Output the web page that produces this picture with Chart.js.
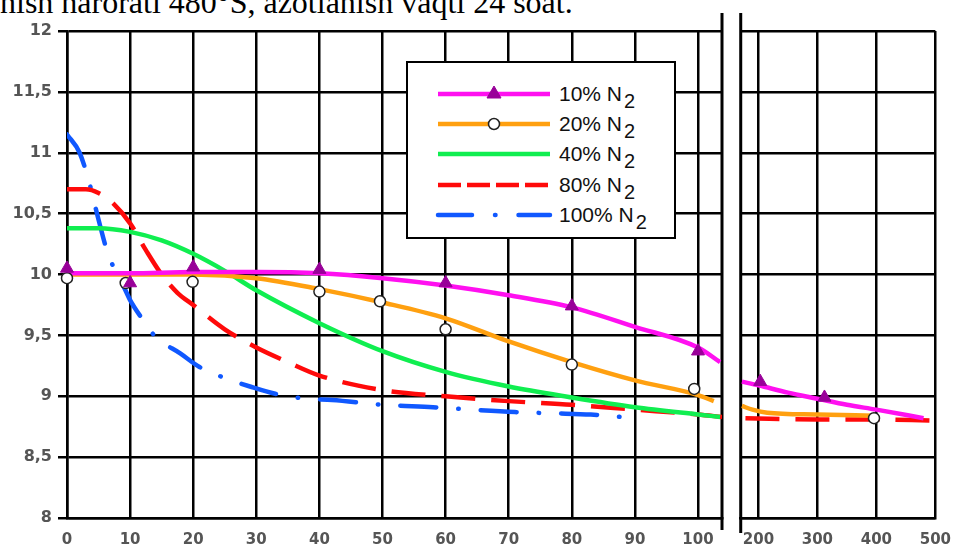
<!DOCTYPE html>
<html>
<head>
<meta charset="utf-8">
<script src="https://cdn.jsdelivr.net/npm/chart.js@4.4.1/dist/chart.umd.min.js"></script>
<style>
  body { margin: 0; background: #fff; width: 964px; height: 548px; overflow: hidden; position: relative; }
  #caption { position: absolute; left: 0; top: -14px; font: 32px 'Liberation Serif', 'Times New Roman', serif; line-height: 32px; white-space: nowrap; color: #000; }
  #left { position: absolute; left: 0; top: 0; }
  #right { position: absolute; left: 730px; top: 0; }
  #legend { position: absolute; left: 406px; top: 61px; width: 270px; height: 178px; border: 2.5px solid #000; background: #fff; box-sizing: border-box; font-family: 'Liberation Sans', Arial, sans-serif; }
  .row { position: absolute; left: 0; height: 24px; width: 100%; }
  .row svg { position: absolute; left: 26px; top: 0; }
  .row span.t { position: absolute; left: 151px; top: 0; font-size: 21px; line-height: 24px; color: #111; white-space: nowrap; }
  .row span.t sub { font-size: 20px; vertical-align: -7px; line-height: 0; margin-left: 2px; }
</style>
</head>
<body>
<div id="caption">nish harorati 480°S, azotlanish vaqti 24 soat.</div>
<canvas id="left" width="735" height="548"></canvas>
<canvas id="right" width="234" height="548"></canvas>
<div id="legend"></div>
<script>
// axes
const xTicksLeft = [0, 10, 20, 30, 40, 50, 60, 70, 80, 90, 100];
const xTicksRight = [200, 300, 400, 500];
const yTicks = [8, 8.5, 9, 9.5, 10, 10.5, 11, 11.5, 12];

// legend
const seriesNames = ['10% N', '20% N', '40% N', '80% N', '100% N'];
const seriesColors = ['#ff10f0', '#ffa010', '#10ee50', '#ff0a0a', '#1058ff'];

// 10% N2 (curve + triangles)
const n10LeftX = [0, 10, 20, 30, 40, 50, 60, 70, 80, 90, 100, 103.5];
const n10LeftY = [10.01, 10.01, 10.02, 10.02, 10.01, 9.97, 9.91, 9.83, 9.73, 9.57, 9.4, 9.28];
const n10RightX = [172, 200, 250, 300, 350, 400, 480];
const n10RightY = [9.12, 9.09, 9.03, 8.98, 8.93, 8.89, 8.82];
const n10MarkX = [0, 10, 20, 40, 60, 80, 100, 203, 312];
const n10MarkY = [10.05, 9.93, 10.06, 10.04, 9.93, 9.74, 9.37, 9.12, 8.99];

// 20% N2 (curve + circles)
const n20LeftX = [0, 10, 20, 30, 40, 50, 60, 70, 80, 90, 100, 102.5];
const n20LeftY = [10.0, 10.0, 10.0, 9.97, 9.88, 9.77, 9.64, 9.45, 9.28, 9.13, 9.01, 8.96];
const n20RightX = [172, 190, 215, 300, 396];
const n20RightY = [8.92, 8.89, 8.865, 8.85, 8.84];
const n20MarkX = [0, 9.3, 19.9, 40, 49.6, 60, 80, 99.4, 396];
const n20MarkY = [9.97, 9.93, 9.94, 9.86, 9.78, 9.55, 9.26, 9.06, 8.82];

// 40% N2
const n40LeftX = [0, 5, 10, 15, 20, 25, 30, 40, 50, 60, 70, 80, 90, 100, 103.5];
const n40LeftY = [10.38, 10.38, 10.35, 10.28, 10.17, 10.03, 9.87, 9.6, 9.37, 9.2, 9.08, 8.99, 8.91, 8.85, 8.83];

// 80% N2
const n80LeftX = [0, 3, 5, 7, 10, 12.5, 15, 17.5, 20, 25, 30, 35, 40, 50, 60, 70, 80, 90, 100, 103.8];
const n80LeftY = [10.7, 10.7, 10.67, 10.6, 10.42, 10.2, 10.0, 9.85, 9.75, 9.55, 9.4, 9.28, 9.17, 9.05, 9.0, 8.96, 8.93, 8.89, 8.85, 8.83];
const n80RightX = [178, 300, 400, 490];
const n80RightY = [8.82, 8.81, 8.81, 8.8];

// 100% N2
const n100LeftX = [0, 2, 3.5, 5, 6.5, 9, 10, 12, 14, 18, 21, 25, 29, 33, 38, 42, 50, 58, 64, 71, 77, 83, 90];
const n100LeftY = [11.15, 11.0, 10.76, 10.45, 10.17, 9.9, 9.79, 9.63, 9.49, 9.35, 9.24, 9.15, 9.08, 9.02, 8.98, 8.97, 8.93, 8.91, 8.89, 8.87, 8.86, 8.85, 8.82];

const pts = (xs, ys) => xs.map((x, i) => ({ x: x, y: ys[i] }));

const dashes = [[], [], [], [34, 16], [36, 22, 0.5, 22]];

function curve(data, k, order) {
    return {
        data: data,
        borderColor: seriesColors[k],
        borderWidth: 4.5,
        borderDash: dashes[k],
        borderCapStyle: k === 4 ? 'round' : 'butt',
        pointRadius: 0,
        cubicInterpolationMode: 'monotone',
        fill: false,
        order: order
    };
}

const triangles = {
    data: [],
    showLine: false,
    pointStyle: 'triangle',
    pointRadius: 7.5,
    backgroundColor: '#990099',
    borderColor: '#990099',
    borderWidth: 1,
    clip: false,
    order: 0
};
const circles = {
    data: [],
    showLine: false,
    pointStyle: 'circle',
    pointRadius: 5.5,
    backgroundColor: '#fff',
    borderColor: '#222',
    borderWidth: 1.5,
    clip: false,
    order: 1
};

const gridStyle = { color: '#000', lineWidth: 2.5 };
const yFont = { family: "'DejaVu Sans', Verdana, sans-serif", size: 16, weight: 'bold' };
const xFont = { family: "'DejaVu Sans', Verdana, sans-serif", size: 15, weight: 'bold' };

function breakLine(side, bottomExtra) {
    return {
        id: 'breakLine',
        beforeDatasetsDraw(chart) {
            const a = chart.chartArea;
            const ctx = chart.ctx;
            const x = side === 'right' ? a.right : a.left;
            ctx.save();
            ctx.strokeStyle = '#000';
            ctx.lineWidth = 3;
            ctx.beginPath();
            ctx.moveTo(x, 13);
            ctx.lineTo(x, a.bottom + bottomExtra);
            ctx.stroke();
            ctx.restore();
        }
    };
}

const commonOpts = {
    responsive: false,
    animation: false,
    plugins: { legend: { display: false }, tooltip: { enabled: false } }
};

// left panel 0..100
new Chart(document.getElementById('left'), {
    type: 'line',
    data: {
        datasets: [
            Object.assign({}, triangles, { data: pts(n10MarkX.slice(0, 7), n10MarkY.slice(0, 7)) }),
            Object.assign({}, circles, { data: pts(n20MarkX.slice(0, 8), n20MarkY.slice(0, 8)) }),
            curve(pts(n10LeftX, n10LeftY), 0, 2),
            curve(pts(n20LeftX, n20LeftY), 1, 3),
            curve(pts(n40LeftX, n40LeftY), 2, 4),
            curve(pts(n80LeftX, n80LeftY), 3, 5),
            curve(pts(n100LeftX, n100LeftY), 4, 6)
        ]
    },
    options: Object.assign({}, commonOpts, {
        layout: { padding: { left: 0, right: 13, top: 31, bottom: 0 } },
        scales: {
            x: {
                type: 'linear', min: 0, max: 103.8,
                afterBuildTicks: s => { s.ticks = xTicksLeft.map(v => ({ value: v })); },
                afterFit: s => { s.height = 30; },
                grid: Object.assign({ drawTicks: false }, gridStyle),
                border: { color: '#000', width: 2.5 },
                ticks: { padding: 13, color: '#555', font: xFont }
            },
            y: {
                min: 8, max: 12,
                afterBuildTicks: s => { s.ticks = yTicks.map(v => ({ value: v })); },
                afterFit: s => { s.width = 67; },
                grid: Object.assign({ tickLength: 9 }, gridStyle),
                border: { color: '#000', width: 2.5 },
                ticks: {
                    padding: 6, color: '#555', font: yFont,
                    callback: v => String(v).replace('.', ',')
                }
            }
        }
    }),
    plugins: [breakLine('right', 12)]
});

// right panel 200..500
new Chart(document.getElementById('right'), {
    type: 'line',
    data: {
        datasets: [
            Object.assign({}, triangles, { data: pts(n10MarkX.slice(7), n10MarkY.slice(7)) }),
            Object.assign({}, circles, { data: pts(n20MarkX.slice(8), n20MarkY.slice(8)) }),
            curve(pts(n10RightX, n10RightY), 0, 2),
            curve(pts(n20RightX, n20RightY), 1, 3),
            curve(pts(n80RightX, n80RightY), 3, 5)
        ]
    },
    options: Object.assign({}, commonOpts, {
        layout: { padding: { left: 10, right: 16, top: 31, bottom: 0 } },
        scales: {
            x: {
                type: 'linear', min: 170, max: 500,
                afterBuildTicks: s => { s.ticks = xTicksRight.map(v => ({ value: v })); },
                afterFit: s => { s.height = 30; },
                grid: Object.assign({ drawTicks: false }, gridStyle),
                border: { color: '#000', width: 2.5 },
                ticks: { padding: 13, color: '#555', font: xFont }
            },
            y: {
                min: 8, max: 12,
                afterBuildTicks: s => { s.ticks = yTicks.map(v => ({ value: v })); },
                afterFit: s => { s.width = 0; },
                grid: Object.assign({ drawTicks: false }, gridStyle),
                border: { display: false },
                ticks: { display: false }
            }
        }
    }),
    plugins: [breakLine('left', 15)]
});

// legend box
const legendEl = document.getElementById('legend');
const rowCenters = [31, 61, 91, 122, 152];
seriesNames.forEach((name, k) => {
    const row = document.createElement('div');
    row.className = 'row';
    row.style.top = (rowCenters[k] - 12) + 'px';
    const dash = k === 3 ? '23 6' : k === 4 ? '34 23 0.5 23' : 'none';
    const cap = k === 4 ? 'round' : 'butt';
    let marker = '';
    if (k === 0) marker = '<polygon points="60,4 67,16 53,16" fill="#990099" stroke="#990099"/>';
    if (k === 1) marker = '<circle cx="60" cy="12" r="5.5" fill="#fff" stroke="#222" stroke-width="1.5"/>';
    row.innerHTML =
        '<svg width="120" height="24"><line x1="4" y1="12" x2="116" y2="12" stroke="' + seriesColors[k] +
        '" stroke-width="4.5" stroke-dasharray="' + dash + '" stroke-linecap="' + cap + '"/>' + marker + '</svg>' +
        '<span class="t">' + name + '<sub>2</sub></span>';
    legendEl.appendChild(row);
});
</script>
</body>
</html>
